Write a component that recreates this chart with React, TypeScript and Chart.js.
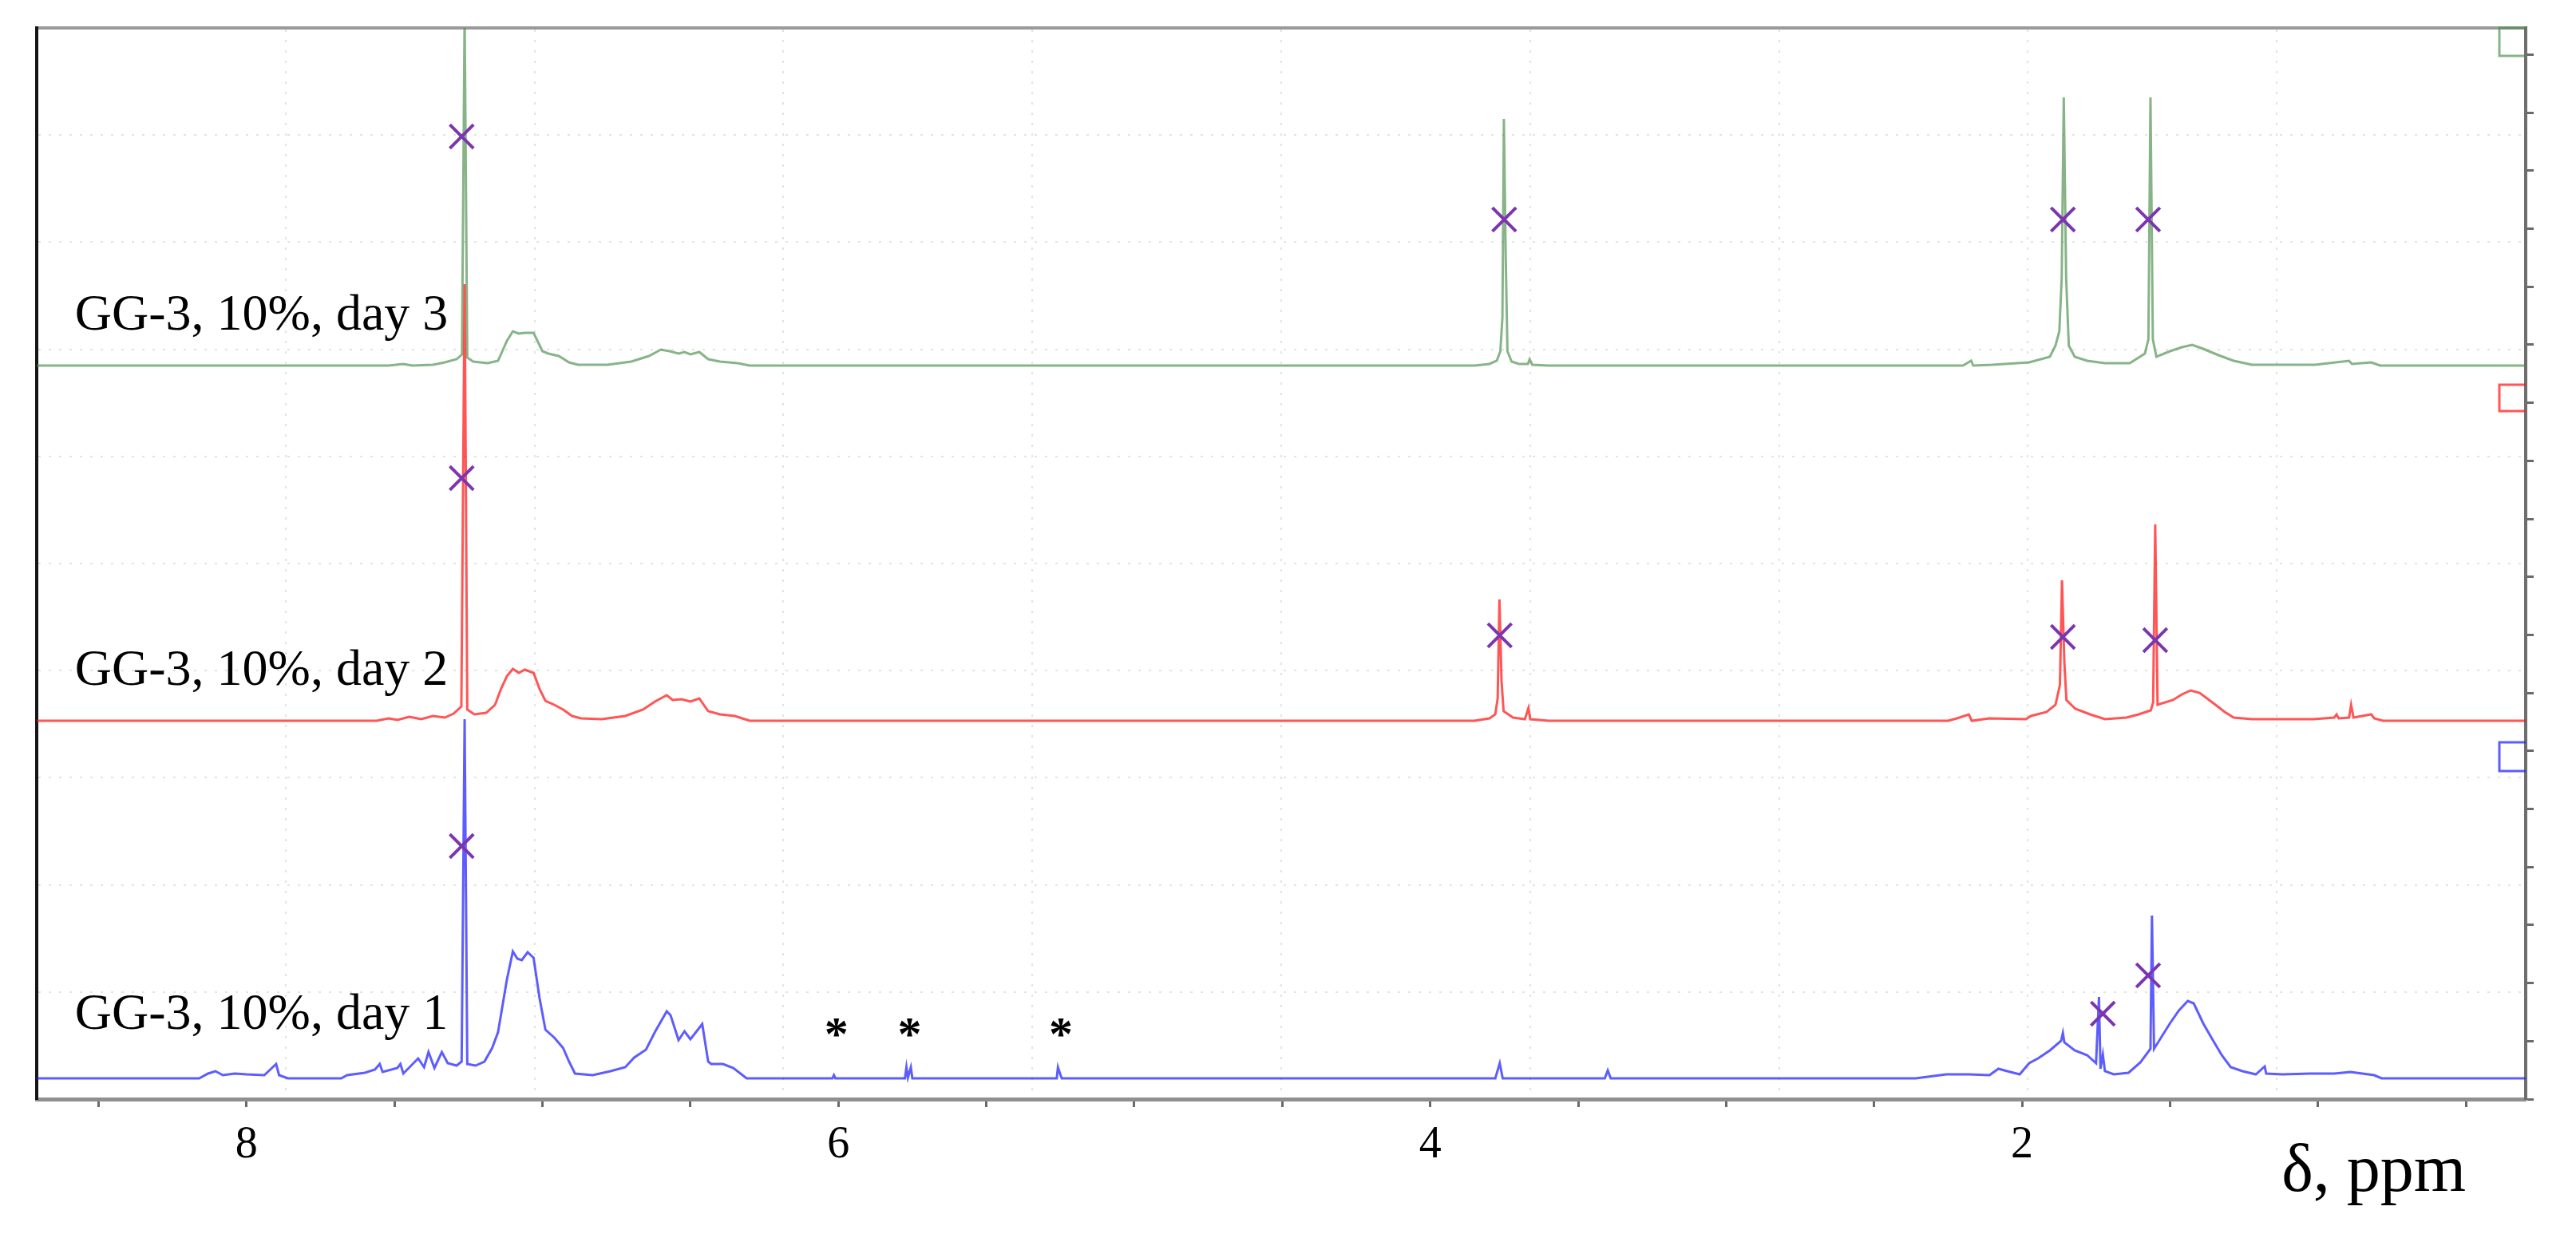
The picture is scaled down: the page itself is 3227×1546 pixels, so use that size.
import React, { useEffect, useRef } from 'react';
import { Chart, registerables } from 'chart.js';

Chart.register(...registerables);

// ---- axis ranges (ppm, reversed) ----
const X_LEFT = 8.709;
const X_RIGHT = 0.298;
const Y_MAX = 1342;
const xTickLabels = [2, 4, 6, 8];
const axisTitle = 'δ, ppm';

// ---- stacking baselines (intensity units) ----
const baselines = [26, 474, 919]; // day 1, day 2, day 3

// ---- spectra: [ppm, intensity above own baseline] ----
const day3Points: [number, number][] = [
  [8.709, 0], [7.52, 0], [7.47, 2], [7.44, 0], [7.37, 1], [7.33, 4], [7.29, 8], [7.272, 14], [7.263, 440], [7.254, 10],
  [7.234, 5], [7.185, 3], [7.15, 6], [7.12, 31], [7.1, 43], [7.08, 40], [7.06, 41], [7.03, 41], [7.0, 18], [6.98, 15],
  [6.945, 12], [6.91, 4], [6.88, 1], [6.78, 1], [6.7, 5], [6.64, 12], [6.6, 20], [6.57, 18], [6.54, 15], [6.52, 17],
  [6.5, 14], [6.47, 17], [6.44, 8], [6.4, 5], [6.34, 3], [6.3, 0],
  [3.85, 0], [3.8, 2], [3.775, 6], [3.763, 18], [3.756, 60], [3.751, 309], [3.745, 140], [3.739, 18], [3.725, 5], [3.7, 2],
  [3.67, 2], [3.664, 8], [3.655, 1], [3.6, 0],
  [2.2, 0], [2.172, 6], [2.165, 0], [2.1, 1], [1.976, 4], [1.906, 11], [1.887, 25], [1.874, 43], [1.866, 110], [1.859, 336],
  [1.851, 110], [1.842, 25], [1.822, 11], [1.78, 6], [1.72, 3], [1.636, 3], [1.585, 15], [1.573, 33], [1.566, 336], [1.558, 33],
  [1.546, 11], [1.5, 18], [1.46, 23], [1.425, 26], [1.388, 21], [1.336, 13], [1.285, 6], [1.223, 1], [1.01, 1], [0.895, 6],
  [0.885, 2], [0.82, 4], [0.79, 0], [0.298, 0],
];

const day2Points: [number, number][] = [
  [8.709, 0], [7.56, 0], [7.52, 3], [7.49, 1], [7.45, 5], [7.41, 2], [7.37, 6], [7.33, 4], [7.3, 9], [7.274, 18],
  [7.263, 547], [7.254, 14], [7.23, 8], [7.19, 10], [7.16, 20], [7.14, 40], [7.12, 56], [7.1, 65], [7.08, 60], [7.06, 64],
  [7.03, 60], [7.01, 40], [6.99, 25], [6.96, 20], [6.93, 14], [6.9, 6], [6.87, 3], [6.8, 2], [6.72, 6], [6.66, 14],
  [6.62, 24], [6.58, 32], [6.56, 26], [6.53, 27], [6.5, 24], [6.47, 28], [6.44, 12], [6.4, 8], [6.35, 6], [6.3, 0],
  [3.85, 0], [3.8, 3], [3.78, 8], [3.772, 28], [3.766, 152], [3.759, 50], [3.752, 12], [3.72, 4], [3.68, 2], [3.668, 16],
  [3.662, 2], [3.6, 0],
  [2.25, 0], [2.22, 3], [2.18, 8], [2.17, 0], [2.11, 3], [1.987, 2], [1.97, 6], [1.917, 11], [1.887, 20], [1.872, 45],
  [1.865, 176], [1.857, 73], [1.85, 26], [1.82, 15], [1.77, 8], [1.72, 2], [1.647, 4], [1.606, 8], [1.565, 13], [1.557, 23],
  [1.55, 246], [1.542, 20], [1.49, 26], [1.46, 33], [1.43, 38], [1.4, 35], [1.357, 23], [1.315, 11], [1.285, 4], [1.223, 2],
  [1.015, 2], [0.945, 4], [0.937, 8], [0.93, 3], [0.895, 4], [0.888, 20], [0.88, 4], [0.82, 8], [0.81, 3], [0.78, 0],
  [0.298, 0],
];

const day1Points: [number, number][] = [
  [8.709, 0], [8.16, 0], [8.13, 6], [8.105, 9], [8.08, 4], [8.04, 6], [8.0, 5], [7.94, 4], [7.9, 18], [7.89, 4],
  [7.86, 0], [7.68, 0], [7.66, 4], [7.6, 7], [7.566, 11], [7.55, 18], [7.54, 8], [7.49, 13], [7.48, 18], [7.47, 6],
  [7.42, 25], [7.4, 14], [7.385, 33], [7.365, 13], [7.34, 33], [7.32, 19], [7.29, 16], [7.273, 21], [7.263, 450], [7.254, 18],
  [7.226, 16], [7.196, 21], [7.17, 38], [7.15, 58], [7.12, 124], [7.1, 159], [7.085, 150], [7.07, 148], [7.05, 158], [7.03, 151],
  [7.01, 101], [6.99, 61], [6.96, 51], [6.93, 38], [6.91, 21], [6.89, 6], [6.83, 4], [6.77, 9], [6.72, 14], [6.69, 26],
  [6.65, 36], [6.62, 58], [6.58, 84], [6.567, 79], [6.54, 48], [6.52, 59], [6.5, 49], [6.46, 68], [6.44, 21], [6.43, 18],
  [6.39, 18], [6.355, 13], [6.31, 0],
  [6.02, 0], [6.015, 4], [6.01, 0], [5.775, 0], [5.77, 14], [5.765, 1], [5.755, 14], [5.75, 0], [5.262, 0], [5.258, 14],
  [5.25, 5], [5.245, 0], [3.78, 0], [3.765, 19], [3.755, 0], [3.41, 0], [3.4, 10], [3.39, 0],
  [2.36, 0], [2.256, 5], [2.18, 5], [2.11, 4], [2.08, 12], [2.05, 9], [2.008, 5], [1.976, 19], [1.946, 25], [1.906, 35],
  [1.868, 47], [1.862, 57], [1.857, 45], [1.822, 35], [1.78, 29], [1.75, 19], [1.74, 102], [1.735, 12], [1.727, 30], [1.72, 9],
  [1.69, 5], [1.64, 7], [1.6, 20], [1.566, 37], [1.561, 204], [1.554, 37], [1.5, 69], [1.47, 85], [1.44, 97], [1.42, 94],
  [1.388, 69], [1.357, 49], [1.325, 29], [1.295, 14], [1.255, 9], [1.21, 5], [1.18, 15], [1.175, 6], [1.12, 5], [1.026, 6],
  [0.945, 6], [0.89, 8], [0.81, 4], [0.785, 0], [0.298, 0],
];

// ---- peak-pick markers (×) ----
const markerPpm = [7.273, 3.75, 1.862, 1.574, 7.273, 3.765, 1.862, 1.55, 7.273, 1.727, 1.574];
const markerY = [1206, 1102, 1102, 1102, 778, 581, 579, 575, 317, 107, 155];

// ---- offset brackets at the right edge ----
const bracketPpm = [0.298, 0.387, 0.387, 0.298];
const bracketY3 = [1342, 1342, 1307, 1307];
const bracketY2 = [895, 895, 862, 862];
const bracketY1 = [447, 447, 411, 411];

// ---- text annotations ----
const seriesLabels = ['GG-3, 10%, day 1', 'GG-3, 10%, day 2', 'GG-3, 10%, day 3'];
const labelPpm = 8.58;
const labelY = [88, 519, 964];
const asteriskPpm = [6.007, 5.759, 5.248];
const asteriskY = 90;
const titlePpm = 1.123;

const colors = ['rgba(30,30,255,0.72)', 'rgba(255,20,20,0.72)', 'rgba(70,140,70,0.65)'];
const markerColor = '#7b35b0';

const annotationPlugin = {
  id: 'nmrAnnotations',
  afterDatasetsDraw(chart: any) {
    const { ctx, scales, chartArea } = chart;
    const x = scales.x;
    const y = scales.y;
    ctx.save();
    ctx.fillStyle = '#000';
    ctx.textAlign = 'left';
    ctx.textBaseline = 'alphabetic';
    ctx.font = '64px "Liberation Serif"';
    seriesLabels.forEach((t, i) => {
      ctx.fillText(t, x.getPixelForValue(labelPpm), y.getPixelForValue(labelY[i]));
    });
    ctx.font = 'bold 60px "Liberation Serif"';
    ctx.textAlign = 'center';
    const m = ctx.measureText('*');
    const off = (m.actualBoundingBoxAscent - m.actualBoundingBoxDescent) / 2;
    asteriskPpm.forEach((p) => {
      ctx.fillText('*', x.getPixelForValue(p), y.getPixelForValue(asteriskY) + off);
    });
    ctx.textAlign = 'left';
    ctx.font = '84px "Liberation Serif"';
    ctx.fillText(axisTitle, x.getPixelForValue(titlePpm), chartArea.bottom + 115);
    ctx.restore();
  },
};

export default function App() {
  const ref = useRef<HTMLCanvasElement>(null);
  useEffect(() => {
    document.body.style.margin = '0';
    const spectra = [day1Points, day2Points, day3Points];
    const specSets = spectra.map((pts, i) => ({
      type: 'line' as const,
      label: seriesLabels[i],
      data: pts.map(([p, v]) => ({ x: p, y: baselines[i] + v })),
      borderColor: colors[i],
      borderWidth: 3,
      pointRadius: 0,
      tension: 0,
      fill: false,
      clip: 0,
      order: 1 + i,
      xAxisID: 'x',
      yAxisID: 'y',
    }));
    const brackets = [bracketY1, bracketY2, bracketY3].map((ys, i) => ({
      type: 'line' as const,
      label: 'bracket' + i,
      data: bracketPpm.map((p, k) => ({ x: p, y: ys[k] })),
      borderColor: colors[i],
      borderWidth: 3,
      pointRadius: 0,
      fill: false,
      clip: 4,
      order: 1 + i,
      xAxisID: 'x',
      yAxisID: 'y',
    }));
    const markers = {
      type: 'scatter' as const,
      label: 'peaks',
      data: markerPpm.map((p, k) => ({ x: p, y: markerY[k] })),
      pointStyle: 'crossRot',
      pointRadius: 21,
      pointBorderWidth: 4,
      borderColor: markerColor,
      backgroundColor: markerColor,
      order: 0,
      xAxisID: 'x',
      yAxisID: 'y',
    };
    const chart = new Chart(ref.current as HTMLCanvasElement, {
      type: 'line',
      data: { datasets: [markers as any, ...specSets, ...brackets] },
      options: {
        animation: false,
        responsive: false,
        maintainAspectRatio: false,
        events: [],
        layout: { padding: { left: 46, right: 53, top: 35, bottom: 0 } },
        plugins: { legend: { display: false }, tooltip: { enabled: false } },
        scales: {
          x: {
            type: 'linear',
            position: 'bottom',
            reverse: true,
            min: X_RIGHT,
            max: X_LEFT,
            afterFit: (s: any) => {
              s.height = 169;
            },
            grid: { drawOnChartArea: false, drawTicks: true, tickLength: 10, tickWidth: 3, tickColor: '#6a6a6a' },
            border: { display: true, color: '#8f8f8f', width: 5 },
            ticks: {
              stepSize: 0.5,
              includeBounds: false,
              autoSkip: false,
              maxRotation: 0,
              padding: 15,
              color: '#000',
              font: { family: 'Liberation Serif', size: 56 },
              callback: (v: any) => {
                const r = Math.round(Number(v) * 100) / 100;
                return xTickLabels.includes(r) ? String(r) : '';
              },
            },
          },
          xg: {
            type: 'linear',
            position: 'top',
            min: 0,
            max: 10,
            ticks: { display: false, stepSize: 1 },
            grid: { drawTicks: false, color: '#e3e3e3', lineWidth: 2 },
            border: { display: true, color: '#9a9a9a', width: 4, dash: [3, 10] },
          },
          y: {
            type: 'linear',
            position: 'right',
            min: 0,
            max: Y_MAX,
            ticks: { display: false, stepSize: 72.7, includeBounds: false },
            grid: { drawOnChartArea: false, drawTicks: true, tickLength: 10, tickWidth: 3, tickColor: '#6a6a6a' },
            border: { display: true, color: '#6e6e6e', width: 4 },
          },
          yg: {
            type: 'linear',
            position: 'left',
            min: 0,
            max: 10,
            ticks: { display: false, stepSize: 1 },
            grid: { drawTicks: false, color: '#e3e3e3', lineWidth: 2 },
            border: { display: true, color: '#151515', width: 4, dash: [3, 10] },
          },
        },
      } as any,
      plugins: [annotationPlugin],
    });
    return () => chart.destroy();
  }, []);
  return (
    <div style={{ width: 3227, height: 1546, background: '#fff' }}>
      <canvas ref={ref} width={3227} height={1546} style={{ display: 'block' }} />
    </div>
  );
}
